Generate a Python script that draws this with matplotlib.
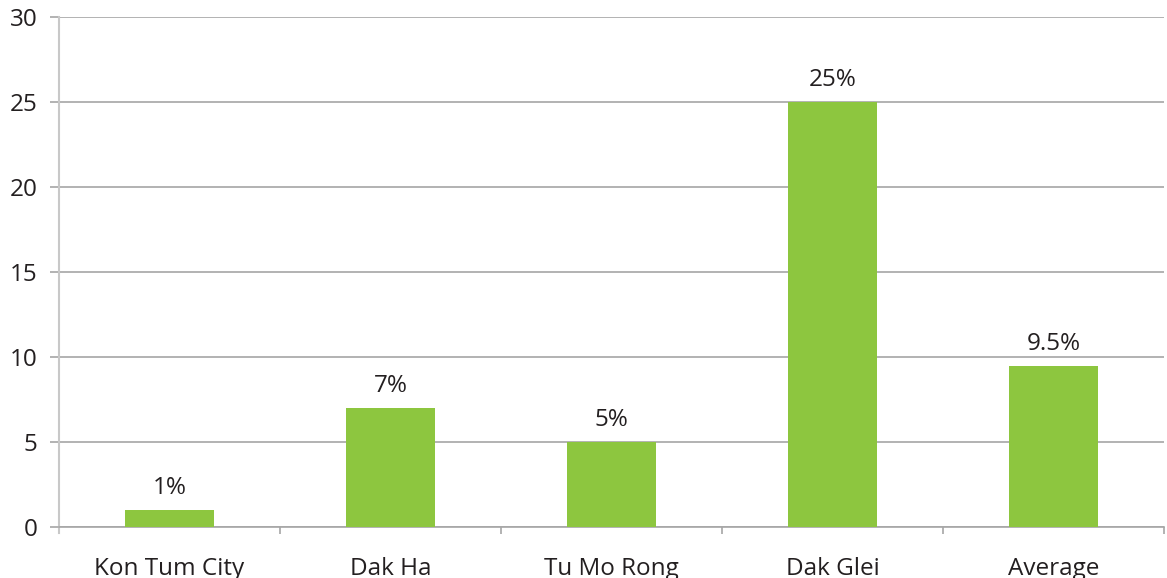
import matplotlib
matplotlib.use("Agg")
import matplotlib.pyplot as plt
from matplotlib.ticker import FixedLocator

districts = ["Kon Tum City", "Dak Ha", "Tu Mo Rong", "Dak Glei", "Average"]
rates = [1, 7, 5, 25, 9.5]
rate_labels = ["1%", "7%", "5%", "25%", "9.5%"]
y_ticks = [0, 5, 10, 15, 20, 25, 30]

plt.rcParams["font.family"] = ["Open Sans", "DejaVu Sans"]
text_color = "#231f20"
grid_color = "#a6a6a6"
bar_color = "#8dc63f"

fig = plt.figure(figsize=(11.67, 5.78), dpi=100)
ax = fig.add_axes([0.0506, 0.0882, 0.9468, 0.8824])

x = list(range(len(districts)))
bars = ax.bar(x, rates, width=0.40, color=bar_color, zorder=3)

for b, lab in zip(bars, rate_labels):
    ax.annotate(lab, (b.get_x() + b.get_width() / 2, b.get_height()),
                xytext=(0, 7), textcoords="offset points",
                ha="center", va="bottom", fontsize=17.5, color=text_color)

ax.set_xlim(-0.5, len(districts) - 0.5)
ax.set_ylim(0, 30)
ax.set_yticks(y_ticks)
ax.set_yticklabels([str(v) for v in y_ticks])
ax.set_xticks(x)
ax.set_xticklabels(districts)
ax.xaxis.set_minor_locator(FixedLocator([i - 0.5 for i in range(len(districts) + 1)]))

ax.grid(axis="y", color=grid_color, linewidth=1.2, zorder=0)
ax.tick_params(axis="y", length=6.5, width=1.2, color=grid_color, pad=9,
               labelsize=17.5, labelcolor=text_color)
ax.tick_params(axis="x", which="major", length=0, pad=21.5,
               labelsize=17.5, labelcolor=text_color)
ax.tick_params(axis="x", which="minor", length=5, width=1.2, color=grid_color)

for side in ["top", "right"]:
    ax.spines[side].set_visible(False)
ax.spines["left"].set_color("#c8c8c8")
ax.spines["left"].set_linewidth(1.5)
ax.spines["left"].set_bounds(-0.35, 30)
ax.spines["bottom"].set_color(grid_color)
ax.spines["bottom"].set_linewidth(1.2)

fig.savefig("out.png", dpi=100)
